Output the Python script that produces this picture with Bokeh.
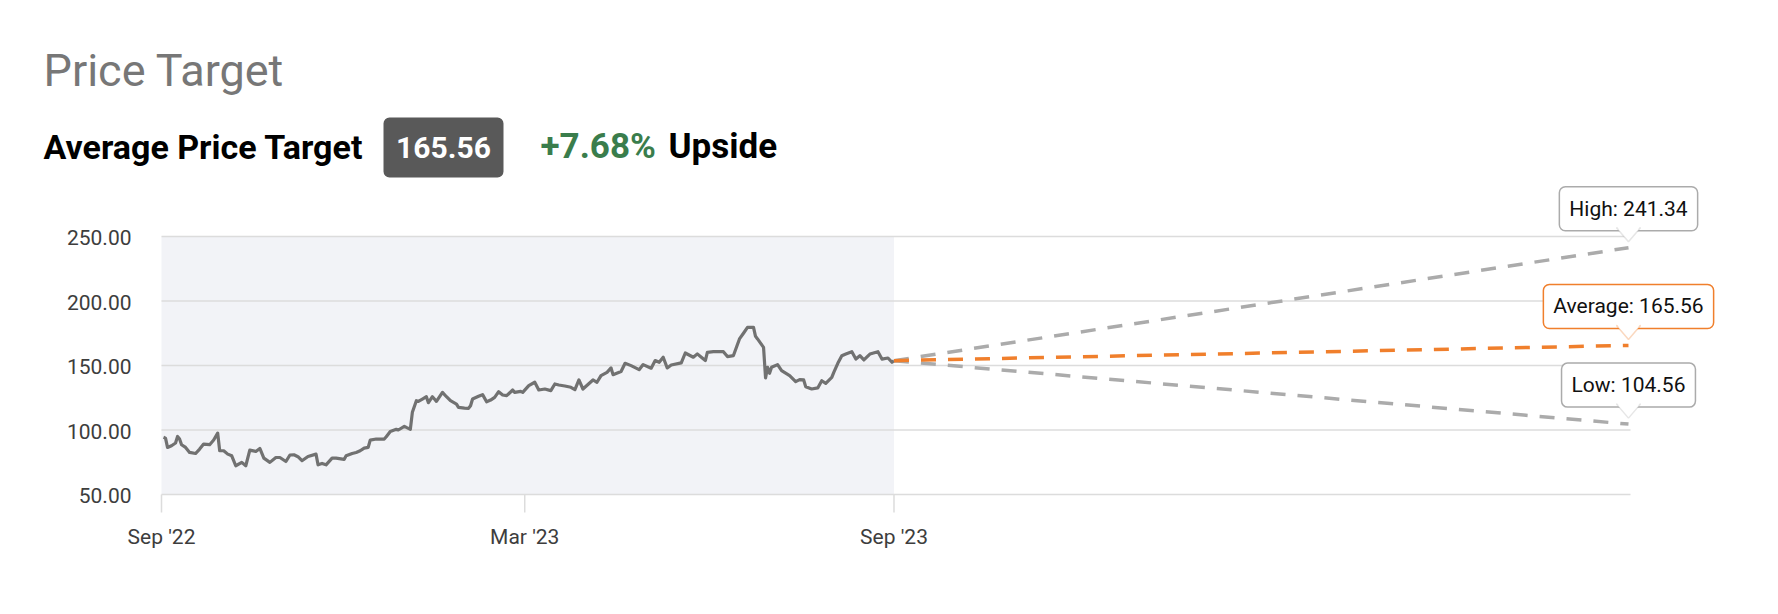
from bokeh.plotting import figure
from bokeh.models import Range1d, Label, PolyAnnotation
from bokeh.embed import file_html
from bokeh.resources import INLINE

# ---------------- data ----------------
# days since 2022-09-01 and closing price
price_days = [1, 2, 3, 5, 7, 8, 9, 10, 12, 14,
              17, 19, 21, 24, 26, 28, 29, 31, 33, 35,
              37, 40, 42, 44, 47, 49, 51, 54, 57, 59,
              62, 64, 66, 68, 70, 73, 77, 78, 80, 82,
              85, 87, 91, 92, 95, 97, 99, 101, 103, 104,
              107, 111, 112, 114, 117, 118, 121, 122, 124, 125,
              127, 128, 130, 132, 133, 135, 136, 137, 140, 142,
              144, 147, 148, 151, 153, 154, 155, 158, 160, 162,
              164, 166, 168, 170, 172, 175, 176, 179, 180, 183,
              186, 188, 191, 194, 196, 198, 201, 204, 206,
              208, 210, 215, 217, 219, 222, 224, 225, 229, 231,
              234, 238, 240, 244, 246, 248, 250, 252, 254, 259,
              261, 265, 267, 269, 271, 272, 275, 280, 282, 285,
              288, 290, 292, 295, 296, 297, 300, 301, 302, 303,
              304, 307, 309, 313, 316, 318, 320, 321, 324, 327,
              329, 331, 334, 335, 337, 339, 341, 344, 346, 348,
              350, 353, 357, 359, 362, 364, 365]
price_values = [94.3, 93.7, 86.5, 87.8, 89.9, 95.0, 93.0, 88.6, 86.5, 82.6,
                81.8, 85.2, 89.1, 88.6, 92.2, 97.6, 83.9, 83.9, 81.3, 80.0,
                72.3, 74.9, 72.3, 84.4, 83.4, 85.7, 78.2, 74.9, 78.7, 78.7,
                75.6, 80.6, 80.8, 79.3, 76.2, 79.5, 81.3, 73.0, 74.1, 73.0,
                78.2, 78.2, 77.2, 80.0, 81.8, 82.6, 83.9, 86.0, 86.5, 92.2,
                93.0, 93.0, 94.8, 98.9, 100.5, 100.0, 102.8, 102.0, 100.5, 113.7,
                122.7, 122.2, 124.0, 125.8, 121.2, 125.8, 124.0, 122.2, 129.2, 125.8,
                122.7, 120.1, 117.5, 117.0, 116.8, 118.8, 124.0, 126.1, 127.4, 121.9,
                123.2, 125.3, 129.7, 127.1, 126.6, 131.0, 129.2, 130.0, 129.2, 134.4,
                137.0, 131.0, 131.8, 130.5, 135.7, 134.9, 134.1, 133.1, 131.3,
                138.8, 131.8, 138.8, 137.0, 142.2, 144.7, 148.1, 142.9, 145.3, 151.7,
                149.9, 146.8, 150.7, 147.9, 153.8, 152.5, 156.4, 148.1, 150.4, 152.0,
                159.7, 156.4, 159.0, 156.4, 153.8, 160.2, 160.7, 160.7, 156.9, 157.7,
                170.6, 175.0, 179.6, 179.6, 172.6, 170.6, 164.1, 140.3, 148.6, 144.0,
                148.6, 150.7, 146.0, 142.2, 137.5, 139.1, 138.8, 133.6, 131.8, 132.6,
                138.2, 136.2, 140.8, 144.7, 151.7, 157.6, 158.9, 160.7, 155.0, 157.6,
                154.3, 158.9, 160.7, 155.0, 155.8, 152.5, 153.75]

x_tick_days = [0, 181, 365]
x_tick_labels = ["Sep '22", "Mar '23", "Sep '23"]
y_ticks = [50, 100, 150, 200, 250]

target_names = ["High", "Average", "Low"]
target_values = [241.34, 165.56, 104.56]
target_day = 731          # 2024-09-01
average_target = 165.56
upside_pct = 7.68

# ---------------- layout / style ----------------
FONT = "Roboto"
W, H = 1762, 598
# chart box inside the canvas (px); the canvas sits at the page origin
CH_LEFT, CH_RIGHT, CH_TOP, CH_BOTTOM = 161, 1630, 236, 494
XA, XB = 0, 732            # chart x extent (days)
YA, YB = y_ticks[0], y_ticks[-1]
ppx = (CH_RIGHT - CH_LEFT) / (XB - XA)   # px per day
ppy = (CH_BOTTOM - CH_TOP) / (YB - YA)   # px per unit
X0 = XA - CH_LEFT / ppx
X1 = XB + (W - CH_RIGHT) / ppx
Y0 = YA - (H - CH_BOTTOM) / ppy
Y1 = YB + CH_TOP / ppy
dx, dy = 1 / ppx, 1 / ppy

GRID = "#dcdcdc"
GRAY = "#ababab"
ORANGE = "#f07f2c"
TICKC = "#3d3d3d"

p = figure(width=W, height=H, output_backend="svg", toolbar_location=None,
           x_range=Range1d(X0, X1), y_range=Range1d(Y0, Y1),
           x_axis_type=None, y_axis_type=None,
           min_border=0, min_border_left=0, min_border_right=0,
           min_border_top=0, min_border_bottom=0,
           outline_line_color=None, background_fill_color="white",
           border_fill_color="white")

last_day = price_days[-1]
last_price = price_values[-1]

def page_x(px):
    return X0 + px * dx

def page_y(py):
    return Y1 - py * dy

# history shading
p.quad(left=[XA], right=[last_day], bottom=[YA], top=[YB],
       fill_color="#f2f3f7", line_color=None)

# grid lines (also the x axis line at the lowest tick)
p.segment(x0=[XA] * len(y_ticks), x1=[XB] * len(y_ticks), y0=y_ticks, y1=y_ticks,
          line_color=GRID, line_width=1.4)
# x ticks
p.segment(x0=x_tick_days, x1=x_tick_days, y0=[YA] * len(x_tick_days),
          y1=[YA - 18 * dy] * len(x_tick_days), line_color=GRID, line_width=1.5)

# price history
p.line(price_days, price_values, line_color="#717171", line_width=3.2, line_join="round")

# projections
colors = [GRAY, ORANGE, GRAY]
for i in [0, 2, 1]:
    p.line([last_day, target_day], [last_price, target_values[i]], line_color=colors[i],
           line_width=3.5, line_dash="15 12")

# tick labels (anchored at the vertical middle of the glyphs)
for v in y_ticks:
    p.add_layout(Label(x=XA, y=v, text=f"{v:.2f}", x_offset=-30, y_offset=-1,
                       text_align="right", text_baseline="middle",
                       text_font=FONT, text_font_size="21px", text_color=TICKC))
for t, lab in zip(x_tick_days, x_tick_labels):
    p.add_layout(Label(x=t, y=YA, text=lab, y_offset=-42,
                       text_align="center", text_baseline="middle",
                       text_font=FONT, text_font_size="21px", text_color=TICKC))

# callouts
for name, val, col in zip(target_names, target_values, colors):
    p.add_layout(Label(x=target_day, y=val, text=f"{name}: {val:.2f}",
                       text_align="center", text_baseline="middle", y_offset=39,
                       text_font=FONT, text_font_size="21px", text_color="#111111",
                       background_fill_color="white", border_line_color=col,
                       border_line_width=1.5, border_radius=6, padding=10))
    p.add_layout(PolyAnnotation(xs=[target_day - 12 * dx, target_day, target_day + 12 * dx],
                                ys=[val + 20 * dy, val + 6 * dy, val + 20 * dy],
                                fill_color="white", fill_alpha=1,
                                line_color=col, line_width=1.5))
    p.add_layout(PolyAnnotation(xs=[target_day - 7.0 * dx, target_day + 7.0 * dx,
                                    target_day + 12.0 * dx, target_day - 12.0 * dx],
                                ys=[val + 15.8 * dy, val + 15.8 * dy,
                                    val + 21.5 * dy, val + 21.5 * dy],
                                fill_color="white", fill_alpha=1, line_alpha=0))

# header: x = left edge, y = vertical middle of the capitals (page px)
def hdr(x_img, y_mid, text, size, color, style="normal", **kw):
    p.add_layout(Label(x=page_x(x_img), y=page_y(y_mid), text=text,
                       text_font=FONT, text_font_size=size, text_color=color,
                       text_font_style=style, text_baseline="middle", **kw))

# dark value box behind the average target
p.rect(x=[page_x(443)], y=[page_y(147)], width=120, height=60,
       width_units="screen", height_units="screen",
       fill_color="#595959", line_color=None, border_radius=6)

hdr(43, 70, "Price Target", "45px", "#777777")
hdr(43, 146, "Average Price Target", "34px", "#000000", "bold")
hdr(443, 147, f"{average_target:.2f}", "30px", "#ffffff", "bold", text_align="center")
hdr(540, 146, f"+{upside_pct:.2f}%", "35px", "#3a7d4c", "bold")
hdr(668, 146, "Upside", "35px", "#000000", "bold")

open("out.html", "w").write(file_html(p, INLINE))
